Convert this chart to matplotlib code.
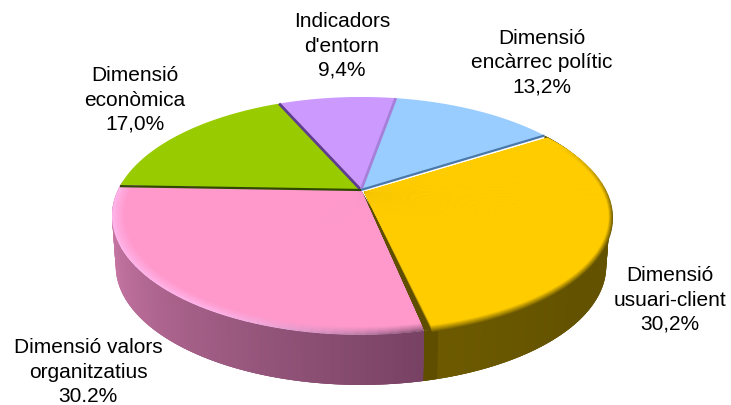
import numpy as np
import matplotlib
matplotlib.use('Agg')
import matplotlib.pyplot as plt
from matplotlib.colors import to_rgb

plt.rcParams['font.family'] = ['Liberation Sans', 'DejaVu Sans']

# clockwise from the top
categories = ['Dimensió\nencàrrec polític', 'Dimensió\nusuari-client', 'Dimensió valors\norganitzatius',
              'Dimensió\neconòmica', 'Indicadors\nd\'entorn']
values = [13.2, 30.2, 30.2, 17.0, 9.4]
value_labels = ['13,2%', '30,2%', '30.2%', '17,0%', '9,4%']

top_colors = ['#99ccff', '#ffcc00', '#ff99cc', '#99cc00', '#cc99ff']
wall_left = ['#5f80a0', '#6e5b00', '#dc84b4', '#5f8000', '#8060a0']
wall_right = ['#5f80a0', '#635200', '#784264', '#5f8000', '#8060a0']
edge_colors = ['#4a78a8', '#5f4e00', '#2f4a00', '#5f3d8f', '#a680d8']
label_pos = [(542, 63), (670, 300), (88, 372), (135, 100), (342, 46)]

CX, CY = 361, 190
A, B, K = 243, 113.3, 0.218
DROP = 50
START = 80
PINK_CUT = 2.0    # gap on the yellow side
PINK_TRIM = 3.0   # pink/green line sits a bit flatter than the true angle


def proj(t_deg, drop=0, shrink=1.0):
    t = np.radians(t_deg)
    s, c = np.sin(t), np.cos(t)
    d = 1 + K * s
    return CX + shrink * A * c / d, CY - B * s / d + drop


def wedge(ax, t0, t1, color, sx=1.0, sy=1.0, z=1, ox=0, oy=0):
    ts = np.linspace(t0, t1, max(int(abs(t1 - t0)), 2) + 1)
    x, y = proj(ts)
    x = CX + (x - CX) * sx
    y = CY + (y - CY) * sy
    ax.fill(np.r_[CX, x] + ox, np.r_[CY, y] + oy, color=color, lw=0, zorder=z)


def mix(a, b, f):
    a, b = np.array(to_rgb(a)), np.array(to_rgb(b))
    return tuple(a + (b - a) * f)


def yellow_rim(t):
    f = np.clip((28 - t) / 40, 0, 1)
    return mix(top_colors[1], '#6b5800', f)


def pink_rim(t):
    f = np.clip((t + 125) / 45, 0, 1)
    return mix('#ffb6ec', '#8a5578', f ** 2)


fig = plt.figure(figsize=(7.31, 4.05), dpi=100)
ax = fig.add_axes([0, 0, 1, 1])
ax.set_xlim(0, 731)
ax.set_ylim(405, 0)
ax.axis('off')

cuts = START - np.cumsum([0] + values) * 3.6

# outer walls, each strip overlaps the next so no seams show
ts = np.linspace(cuts[2] - PINK_CUT, cuts[1], 160)
for j in range(len(ts) - 2, -1, -1):
    seg = np.linspace(ts[max(j - 2, 0)], ts[j + 1], 4)
    x0, y0 = proj(seg)
    x1, y1 = proj(seg[::-1], drop=DROP, shrink=0.985)
    f = j / (len(ts) - 2)
    col = edge_colors[1] if f < 0.022 else mix(wall_left[1], wall_right[1], min(f * 3, 1))
    ax.fill(np.r_[x0, x1], np.r_[y0, y1], color=col, lw=0, zorder=1)

ts = np.linspace(cuts[3], cuts[2] - PINK_CUT, 160)
for j in range(len(ts) - 1):
    seg = np.linspace(ts[j], ts[min(j + 3, len(ts) - 1)], 4)
    x0, y0 = proj(seg)
    x1, y1 = proj(seg[::-1], drop=DROP, shrink=0.985)
    col = mix(wall_left[2], wall_right[2], j / (len(ts) - 2))
    ax.fill(np.r_[x0, x1], np.r_[y0, y1], color=col, lw=0, zorder=1)

# flat slices at the back
wedge(ax, cuts[1], cuts[0], top_colors[0], z=2)
wedge(ax, cuts[4], cuts[3] + PINK_TRIM, top_colors[3], z=2)
wedge(ax, cuts[5], cuts[4], top_colors[4], z=2)

# cut face of the yellow slice next to the pink one
wedge(ax, cuts[2] - PINK_CUT, cuts[2] + 2, edge_colors[1], z=3)

# yellow and pink tops, rim shading first, flat colour inside
for n in range(12):
    f = n / 11
    sec = np.linspace(cuts[2] - 0.7, cuts[1], 40)
    for a, b in zip(sec[:-1], sec[1:]):
        col = mix(yellow_rim((a + b) / 2), top_colors[1], f)
        wedge(ax, a - 0.3, b, col, sx=1 - 0.018 * f, sy=1 - 0.05 * f, z=4, ox=3, oy=2)
    sec = np.linspace(cuts[3] + PINK_TRIM, cuts[2] - PINK_CUT, 50)
    for a, b in zip(sec[:-1], sec[1:]):
        col = mix(pink_rim((a + b) / 2), top_colors[2], f ** 0.8)
        wedge(ax, a - 0.3, b, col, sx=1 - 0.05 * f, sy=1 - 0.055 * f, z=5)

# dark lines between the slices
lines = [(cuts[1], edge_colors[0], 5, 1.6), (cuts[3] + PINK_TRIM, edge_colors[2], 6, 1.6),
         (cuts[4], edge_colors[3], 3, 2.0), (cuts[0], edge_colors[4], 3, 2.0)]
for cut, col, z, lw in lines:
    x, y = proj(np.array([cut]))
    ax.plot([CX, x[0]], [CY, y[0]], color=col, lw=lw, solid_capstyle='butt', zorder=z)

for name, val, (x, y) in zip(categories, value_labels, label_pos):
    ax.text(x, y, name + '\n' + val, ha='center', va='center', fontsize=15,
            linespacing=1.36, color='black', zorder=10)

fig.savefig('out.png', dpi=100)
